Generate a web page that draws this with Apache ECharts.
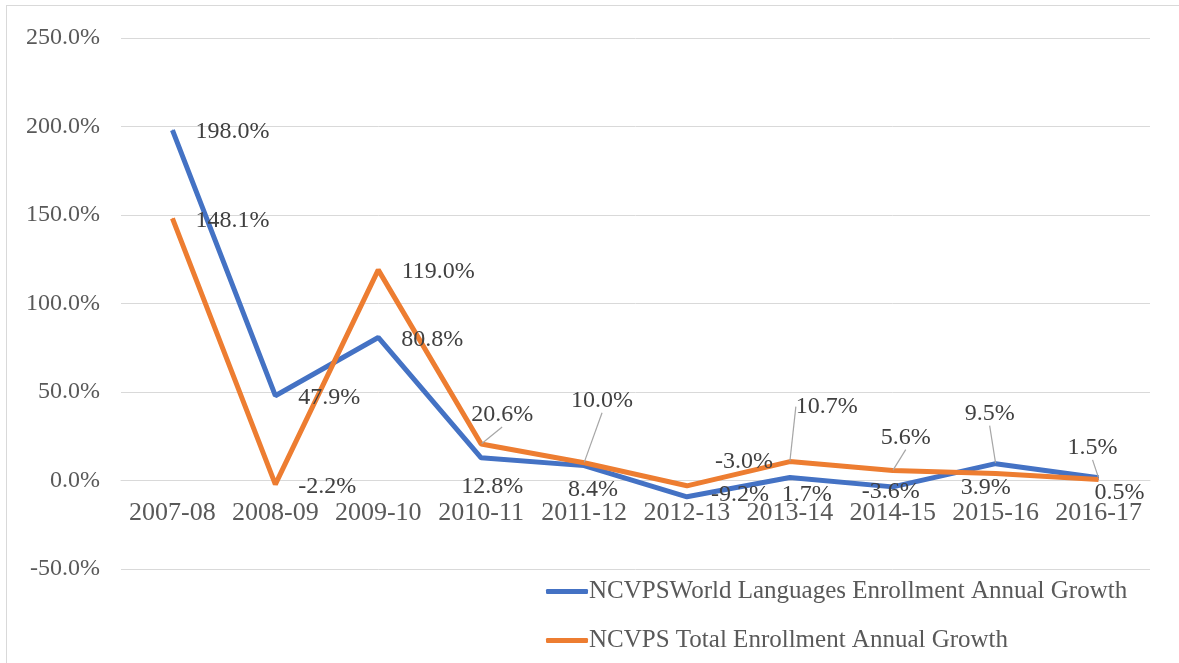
<!DOCTYPE html>
<html>
<head>
<meta charset="utf-8">
<script src="https://cdn.jsdelivr.net/npm/echarts@6/dist/echarts.min.js"></script>
<style>
html,body{margin:0;padding:0;background:#fff;}
#frame{position:absolute;left:6px;top:5px;width:1200px;height:700px;border:1.5px solid #D9D9D9;box-sizing:border-box;}
#chart{position:absolute;left:0;top:0;width:1179px;height:663px;}
</style>
</head>
<body>
<div id="frame"></div>
<div id="chart"></div>
<script>
const categories = ['2007-08','2008-09','2009-10','2010-11','2011-12','2012-13','2013-14','2014-15','2015-16','2016-17'];
const worldLanguages = [198.0, 47.9, 80.8, 12.8, 8.4, -9.2, 1.7, -3.6, 9.5, 1.5];
const totalEnrollment = [148.1, -2.2, 119.0, 20.6, 10.0, -3.0, 10.7, 5.6, 3.9, 0.5];
const seriesNames = ['NCVPSWorld Languages Enrollment Annual Growth', 'NCVPS Total Enrollment Annual Growth'];
const yTicks = [-50, 0, 50, 100, 150, 200, 250];

// label placement (pixel offsets from the point to the label centre) and leader lines
const blueLabelOffsets = [[60,2],[54,2],[54,2],[11,29],[9,24],[53,-2],[17,17],[-2,5],[-6,-50],[-6,-30]];
const orangeLabelOffsets = [[60,2],[52,2],[60,2],[21,-29],[18,-62],[57,-24],[37,-55],[13,-33],[-10,14],[21,13]];
const blueLeaders = [false,false,false,false,false,false,false,false,true,true];
const orangeLeaders = [false,false,false,true,true,false,true,true,false,false];

const offsets = [blueLabelOffsets, orangeLabelOffsets];
const serif = '"Liberation Serif", "Times New Roman", serif';

function makeData(values, leaders){
  return values.map((v,i)=>({value:v, labelLine:{show:leaders[i]}}));
}

const gridTop = 38, gridBottomPx = 569;
const pxPerUnit = (gridBottomPx - gridTop) / (yTicks[yTicks.length-1] - yTicks[0]);
const zeroOffset = -(0 - yTicks[0]) * pxPerUnit;

const chart = echarts.init(document.getElementById('chart'));
const labelCommon = {
  show:true, position:'inside', fontFamily:serif, fontSize:24, color:'#404040',
  formatter: p => p.value.toFixed(1) + '%'
};
chart.setOption({
  animation:false,
  grid:{left:121, right:29, top:gridTop, bottom:663-gridBottomPx, containLabel:false},
  xAxis:{
    type:'category', data:categories, boundaryGap:true, offset:zeroOffset,
    axisLine:{show:true, onZero:false, lineStyle:{color:'#D9D9D9', width:1}},
    axisTick:{show:false},
    axisLabel:{fontFamily:serif, fontSize:26, color:'#595959', margin:20, interval:0}
  },
  yAxis:{
    type:'value', min:yTicks[0], max:yTicks[yTicks.length-1], interval:50,
    axisLine:{show:false}, axisTick:{show:false},
    axisLabel:{fontFamily:serif, fontSize:24, color:'#595959', margin:21, formatter: v => v.toFixed(1) + '%'},
    splitLine:{lineStyle:{color:'#D9D9D9', width:1}}
  },
  legend:{
    orient:'vertical', left:541, top:574, itemGap:24, itemWidth:42, itemHeight:5,
    icon:'roundRect',
    textStyle:{fontFamily:serif, fontSize:25, color:'#595959', padding:[0,0,0,-4]},
    data:seriesNames
  },
  labelLayout: function(params){
    const o = offsets[params.seriesIndex][params.dataIndex];
    return {dx:o[0], dy:o[1]};
  },
  series:[
    {
      name:seriesNames[0], type:'line', data:makeData(worldLanguages, blueLeaders),
      symbol:'circle', symbolSize:1, showSymbol:true,
      lineStyle:{color:'#4472C4', width:5}, itemStyle:{color:'#4472C4'},
      label:labelCommon,
      labelLine:{lineStyle:{color:'#A6A6A6', width:1.2}}
    },
    {
      name:seriesNames[1], type:'line', data:makeData(totalEnrollment, orangeLeaders),
      symbol:'circle', symbolSize:1, showSymbol:true,
      lineStyle:{color:'#ED7D31', width:5}, itemStyle:{color:'#ED7D31'},
      label:labelCommon,
      labelLine:{lineStyle:{color:'#A6A6A6', width:1.2}}
    }
  ]
});
</script>
</body>
</html>
